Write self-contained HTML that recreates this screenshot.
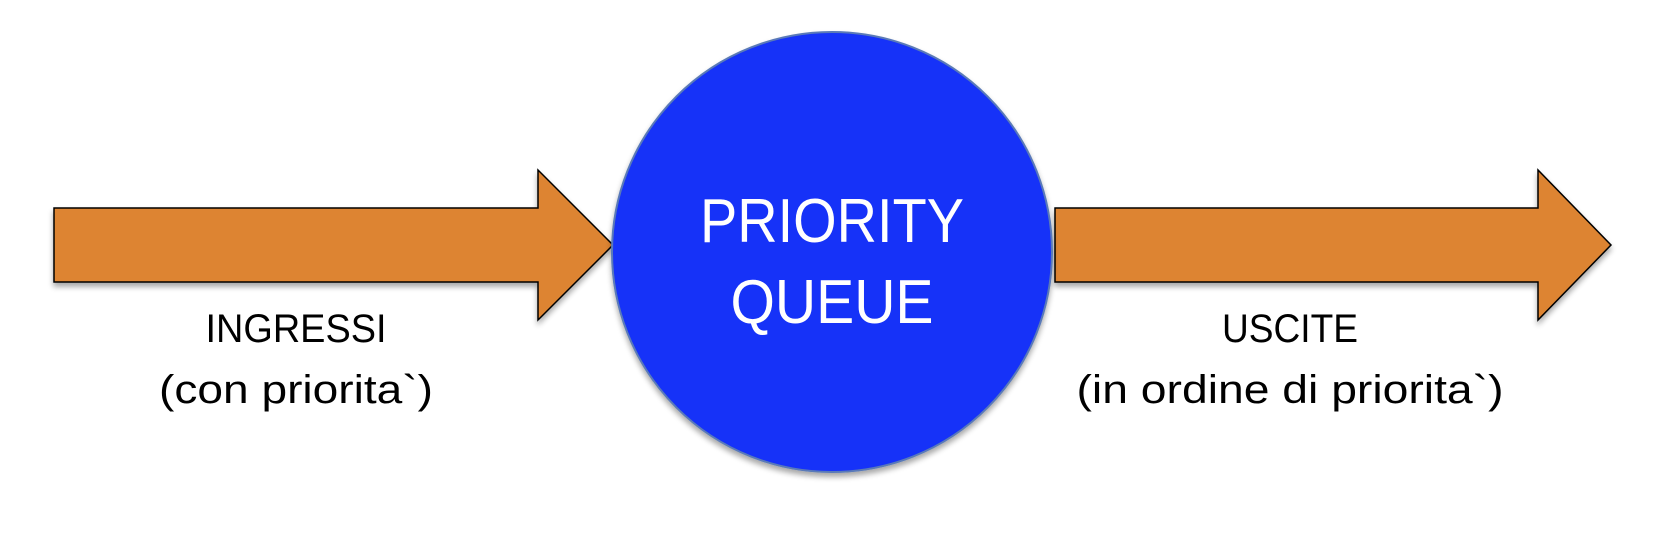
<!DOCTYPE html>
<html><head><meta charset="utf-8"><style>html,body{margin:0;padding:0;background:#fff}svg{display:block}</style></head>
<body>
<svg width="1678" height="542" viewBox="0 0 1678 542" xmlns="http://www.w3.org/2000/svg">
<defs>
<filter id="sh" x="-10%" y="-10%" width="120%" height="130%">
<feGaussianBlur in="SourceAlpha" stdDeviation="3"/>
<feOffset dx="0" dy="4"/>
<feComponentTransfer><feFuncA type="linear" slope="0.35"/></feComponentTransfer>
<feMerge><feMergeNode/><feMergeNode in="SourceGraphic"/></feMerge>
</filter>
</defs>
<g filter="url(#sh)" stroke="#000" stroke-width="1.5" fill="#dd8433">
<polygon points="54,208 538,208 538,170 613,245 538,320 538,282 54,282"/>
<polygon points="1055,208 1538,208 1538,170 1611,245 1538,320 1538,282 1055,282"/>
</g>
<circle cx="832" cy="252" r="220" fill="#1632f8" stroke="#5a7ab8" stroke-width="2" filter="url(#sh)"/>
<g font-family="Liberation Sans, sans-serif" text-anchor="middle">
<text x="832" y="242" font-size="62" fill="#fff" textLength="264" lengthAdjust="spacingAndGlyphs">PRIORITY</text>
<text x="832" y="323" font-size="62" fill="#fff" textLength="203" lengthAdjust="spacingAndGlyphs">QUEUE</text>
<text x="296" y="342" font-size="40" fill="#000" textLength="181" lengthAdjust="spacingAndGlyphs">INGRESSI</text>
<text x="296" y="403" font-size="40" fill="#000" textLength="274" lengthAdjust="spacingAndGlyphs">(con priorita`)</text>
<text x="1290" y="342" font-size="40" fill="#000" textLength="136" lengthAdjust="spacingAndGlyphs">USCITE</text>
<text x="1290" y="403" font-size="40" fill="#000" textLength="427" lengthAdjust="spacingAndGlyphs">(in ordine di priorita`)</text>
</g>
</svg>
</body></html>
